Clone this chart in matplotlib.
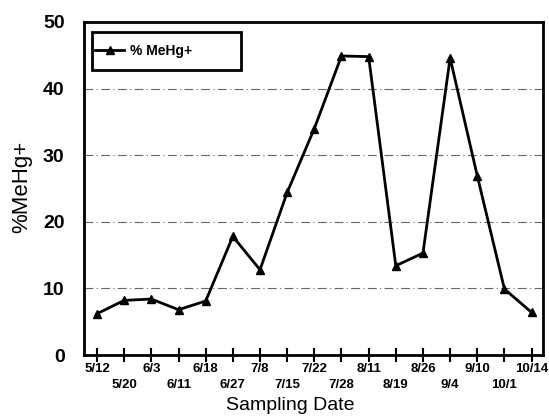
import matplotlib
matplotlib.use("Agg")
import matplotlib.pyplot as plt
from matplotlib.patches import Rectangle
import numpy as np

plt.rcParams['font.family'] = ['Liberation Sans', 'DejaVu Sans']

# datas de amostragem e %MeHg+ medido
datas = ['5/12', '5/20', '6/3', '6/11', '6/18', '6/27', '7/8', '7/15', '7/22',
         '7/28', '8/11', '8/19', '8/26', '9/4', '9/10', '10/1', '10/14']
mehg = [6.2, 8.2, 8.4, 6.8, 8.1, 17.8, 12.8, 24.4, 34.0,
        44.9, 44.8, 13.4, 15.3, 44.6, 26.9, 9.9, 6.4]

fig = plt.figure(figsize=(5.49, 4.16), dpi=100)
ax = fig.add_axes([84 / 549, 1 - 355 / 416, (543 - 84) / 549, (355 - 22) / 416])

x = np.arange(len(datas))
ax.plot(x, mehg, color='black', linewidth=2, marker='^', markersize=6,
        label='% MeHg+', zorder=3)

ax.set_xlim(-0.48, len(datas) - 1 + 0.42)
ax.set_ylim(0, 50)
ax.set_yticks([0, 10, 20, 30, 40, 50])
ax.tick_params(axis='y', length=0, labelsize=14, pad=14)
for t in ax.get_yticklabels():
    t.set_fontweight('bold')

# grade tracejada
for v in [10, 20, 30, 40]:
    ax.axhline(v, color='#666666', linewidth=0.8, dashes=(8, 3, 1, 3), zorder=1)

# rótulos do eixo x alternados em duas linhas
ax.set_xticks(x)
ax.set_xticklabels(['' for _ in datas])
ax.tick_params(axis='x', direction='inout', length=10, width=1.5, color='black')
for i, d in enumerate(datas):
    dy = -0.024 if i % 2 == 0 else -0.072
    ax.text(i, dy, d, transform=ax.get_xaxis_transform(), ha='center', va='top',
            fontsize=9.5, fontweight='bold')

for s in ax.spines.values():
    s.set_linewidth(2)

ax.set_ylabel('%MeHg+', fontsize=16)
ax.yaxis.set_label_coords(-0.113, 0.505)
fig.text(290 / 549, 1 - 405 / 416, 'Sampling Date', ha='center',
         va='center', fontsize=14)

# caixa da legenda
ax.add_patch(Rectangle((0.0174, 0.856), 0.325, 0.114, transform=ax.transAxes,
                       fill=True, facecolor='white', edgecolor='black',
                       linewidth=2, zorder=4))
leg = ax.legend(loc='center left', bbox_to_anchor=(0.0, 0.913), frameon=False,
                prop={'weight': 'bold', 'size': 10}, handlelength=2.1,
                borderpad=0.3, handletextpad=0.4, markerscale=0.9)
leg.set_zorder(5)

fig.savefig('out.png', dpi=100)
